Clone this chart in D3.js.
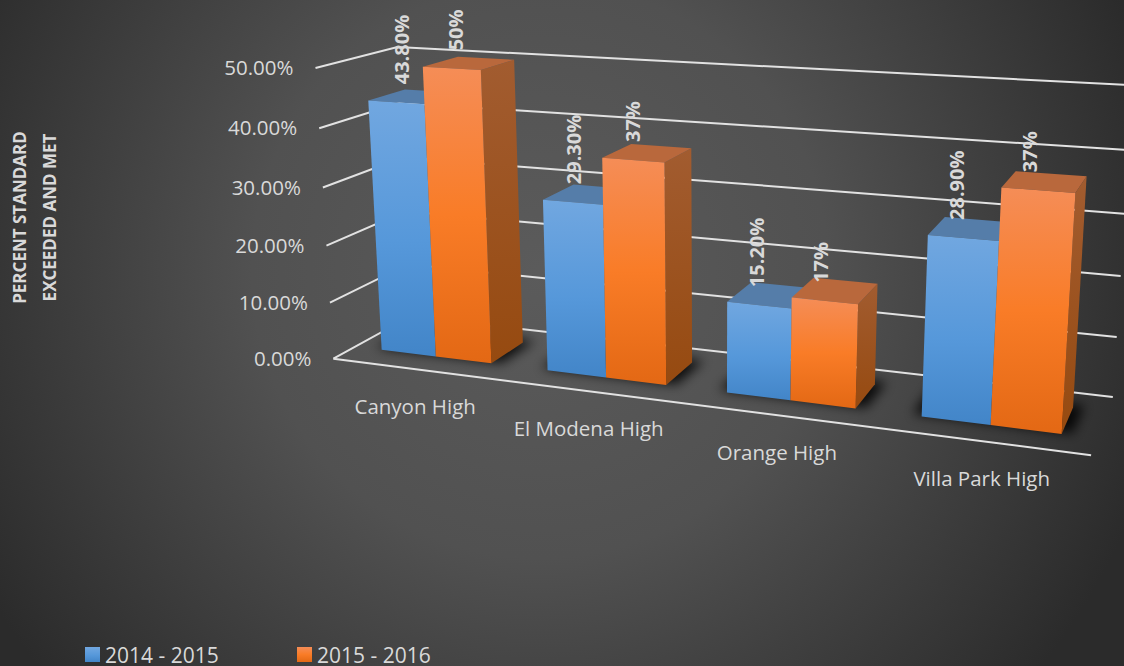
<!DOCTYPE html>
<html>
<head>
<meta charset="utf-8">
<script src="https://cdn.jsdelivr.net/npm/d3@7"></script>
<style>
  html, body { margin: 0; padding: 0; background: #333; overflow: hidden; }
  svg { display: block; }
  text { font-family: "Open Sans", "Noto Sans", sans-serif; fill: #d9d9d9; }
</style>
</head>
<body>
<svg id="chart" width="1124" height="666"></svg>
<script>
// School results, share of students meeting or exceeding the standard
const schools = ["Canyon High", "El Modena High", "Orange High", "Villa Park High"];
const seriesNames = ["2014 - 2015", "2015 - 2016"];
const values2014 = [0.438, 0.293, 0.152, 0.289];
const values2015 = [0.50, 0.37, 0.17, 0.37];
const tickValues = [0, 0.1, 0.2, 0.3, 0.4, 0.5];
const axisTitleLines = ["PERCENT STANDARD", "EXCEEDED AND MET"];

const width = 1124, height = 666;
const svg = d3.select("#chart");
const defs = svg.append("defs");

// Camera: cube corners (u, v, w) and where they land on screen
const cameraPairs = [
  [0, 0, 0, 334, 358], [0, 1, 0, 315, 68],
  [0, 0, 1, 410, 317], [0, 1, 1, 398, 47],
  [1, 0, 1, 1113, 396], [1, 1, 1, 1133, 85.5],
  [1, 0, 0, 1091, 456]
];

function solveCamera(pairs) {
  const rows = [], rhs = [];
  pairs.forEach(([u, v, w, x, y]) => {
    const sx = x / 1000, sy = y / 1000;
    rows.push([u, v, w, 1, 0, 0, 0, 0, -sx * u, -sx * v, -sx * w]); rhs.push(sx);
    rows.push([0, 0, 0, 0, u, v, w, 1, -sy * u, -sy * v, -sy * w]); rhs.push(sy);
  });
  const n = 11;
  const A = d3.range(n).map(i => d3.range(n + 1).map(j =>
    j < n ? d3.sum(rows, r => r[i] * r[j]) + (i === j ? 1e-10 : 0)
          : d3.sum(rows, (r, k) => r[i] * rhs[k])));
  for (let c = 0; c < n; c++) {
    let p = c;
    for (let r = c + 1; r < n; r++) if (Math.abs(A[r][c]) > Math.abs(A[p][c])) p = r;
    [A[c], A[p]] = [A[p], A[c]];
    for (let r = 0; r < n; r++) {
      if (r === c) continue;
      const f = A[r][c] / A[c][c];
      for (let j = c; j <= n; j++) A[r][j] -= f * A[c][j];
    }
  }
  return A.map((row, i) => row[n] / row[i]);
}
const cam = solveCamera(cameraPairs);
function project(u, v, w) {
  const d = cam[8] * u + cam[9] * v + cam[10] * w + 1;
  return [
    1000 * (cam[0] * u + cam[1] * v + cam[2] * w + cam[3]) / d,
    1000 * (cam[4] * u + cam[5] * v + cam[6] * w + cam[7]) / d
  ];
}

// Scales in cube units
const yScale = d3.scaleLinear().domain([0, 0.5]).range([0, 1]);
const xScale = d3.scaleBand().domain(schools).range([0, 1]).paddingInner(0.33).paddingOuter(0.165);
const seriesScale = d3.scaleBand().domain(seriesNames).range([0, xScale.bandwidth()]);
const barDepth = { front: 0.27, back: 0.73 };
const labelShift = d3.scaleLinear().domain([0, 1]).range([7, -9]);

const linePath = d3.line();
const poly = pts => linePath(pts) + "Z";

// Slide background
const bg = defs.append("radialGradient").attr("id", "bg")
  .attr("gradientUnits", "userSpaceOnUse")
  .attr("cx", 540).attr("cy", 270).attr("r", 640);
bg.append("stop").attr("offset", 0).attr("stop-color", "#5b5b5b");
bg.append("stop").attr("offset", 0.45).attr("stop-color", "#515151");
bg.append("stop").attr("offset", 1).attr("stop-color", "#2b2b2b");
svg.append("rect").attr("width", width).attr("height", height).attr("fill", "url(#bg)");

// Face shading for each series
function faceGradient(id, stops) {
  const g = defs.append("linearGradient").attr("id", id)
    .attr("x1", 0).attr("y1", 0).attr("x2", 0).attr("y2", 1);
  stops.forEach(([o, c]) => g.append("stop").attr("offset", o).attr("stop-color", c));
}
faceGradient("front0", [[0, "#71a7e0"], [0.55, "#5698da"], [1, "#4285c8"]]);
faceGradient("front1", [[0, "#f58d57"], [0.5, "#f97c27"], [1, "#e36814"]]);
faceGradient("side0", [[0, "#4c7096"], [1, "#2f5f90"]]);
faceGradient("side1", [[0, "#a25c30"], [1, "#964a10"]]);
const topColor = ["#557da9", "#b9683c"];

defs.append("filter").attr("id", "soft")
  .attr("x", "-30%").attr("y", "-60%").attr("width", "160%").attr("height", "220%")
  .append("feGaussianBlur").attr("stdDeviation", 6);

// Gridlines on the left and back walls
const grid = svg.append("g").attr("stroke", "#e2e2e2").attr("stroke-width", 2).attr("fill", "none");
tickValues.forEach(t => {
  const v = yScale(t);
  grid.append("path").attr("d", linePath([project(0, v, 0), project(0, v, 1), project(1, v, 1)]));
});
grid.append("path").attr("d", linePath([project(0, 0, 0), project(1, 0, 0)]));

// Value axis labels
svg.append("g").selectAll("text").data(tickValues).join("text")
  .attr("x", d => project(0, yScale(d), 0)[0] - 22)
  .attr("y", d => project(0, yScale(d), 0)[1] + 7)
  .attr("text-anchor", "end")
  .attr("font-size", 20.5)
  .text(d3.format(".2%"));

// Category labels below the front floor edge
svg.append("g").selectAll("text").data(schools).join("text")
  .attr("x", d => project(xScale(d) + xScale.bandwidth() / 2, 0, 0)[0])
  .attr("y", d => project(xScale(d) + xScale.bandwidth() / 2, 0, 0)[1] + 45)
  .attr("text-anchor", "middle")
  .attr("font-size", 20.5)
  .text(d => d);

// Floor shadows under each pair of bars
svg.append("g").selectAll("path").data(schools).join("path")
  .attr("filter", "url(#soft)")
  .attr("fill", "#000").attr("fill-opacity", 0.85)
  .attr("d", d => {
    const a = xScale(d) - 0.012, b = xScale(d) + xScale.bandwidth() + 0.012;
    return poly([project(a, 0, barDepth.front + 0.03), project(b, 0, barDepth.front + 0.03),
                 project(b, 0, barDepth.back + 0.06), project(a, 0, barDepth.back + 0.06)]);
  });

// Bars, drawn left to right so nearer faces overlap correctly
const allValues = [values2014, values2015];
const bars = svg.append("g");
schools.forEach((school, i) => {
  seriesNames.forEach((name, s) => {
    const u0 = xScale(school) + seriesScale(name);
    const u1 = u0 + seriesScale.bandwidth();
    const v = yScale(allValues[s][i]);
    const { front: f, back: k } = barDepth;
    bars.append("path").attr("fill", `url(#side${s})`)
      .attr("d", poly([project(u1, 0, f), project(u1, 0, k), project(u1, v, k), project(u1, v, f)]));
    bars.append("path").attr("fill", topColor[s])
      .attr("d", poly([project(u0, v, f), project(u1, v, f), project(u1, v, k), project(u0, v, k)]));
    bars.append("path").attr("fill", `url(#front${s})`)
      .attr("d", poly([project(u0, 0, f), project(u1, 0, f), project(u1, v, f), project(u0, v, f)]));
  });
});

// Rotated value labels above the bars
const labelFormats = [d3.format(".2%"), d3.format(".0%")];
const labels = svg.append("g");
schools.forEach((school, i) => {
  seriesNames.forEach((name, s) => {
    const u = xScale(school) + seriesScale(name) + seriesScale.bandwidth() / 2;
    const [x, y] = project(u, yScale(allValues[s][i]), barDepth.front);
    labels.append("text")
      .attr("transform", `translate(${x + labelShift(u) + 7},${y - 18}) rotate(-90)`)
      .attr("font-size", 20).attr("font-weight", 700)
      .text(labelFormats[s](allValues[s][i]));
  });
});

// Axis title
svg.append("g").selectAll("text").data(axisTitleLines).join("text")
  .attr("transform", (d, i) => `translate(${26 + i * 30},217.5) rotate(-90)`)
  .attr("text-anchor", "middle")
  .attr("font-size", 17).attr("font-weight", 700)
  .text(d => d);

// Legend along the bottom
const legendX = d3.scalePoint().domain(seriesNames).range([85, 297]);
const legend = svg.append("g").selectAll("g").data(seriesNames).join("g")
  .attr("transform", d => `translate(${legendX(d)},647)`);
legend.append("rect").attr("width", 15).attr("height", 15)
  .attr("fill", (d, i) => `url(#front${i})`);
legend.append("text").attr("x", 20).attr("y", 16).attr("font-size", 21).text(d => d);
</script>
</body>
</html>
